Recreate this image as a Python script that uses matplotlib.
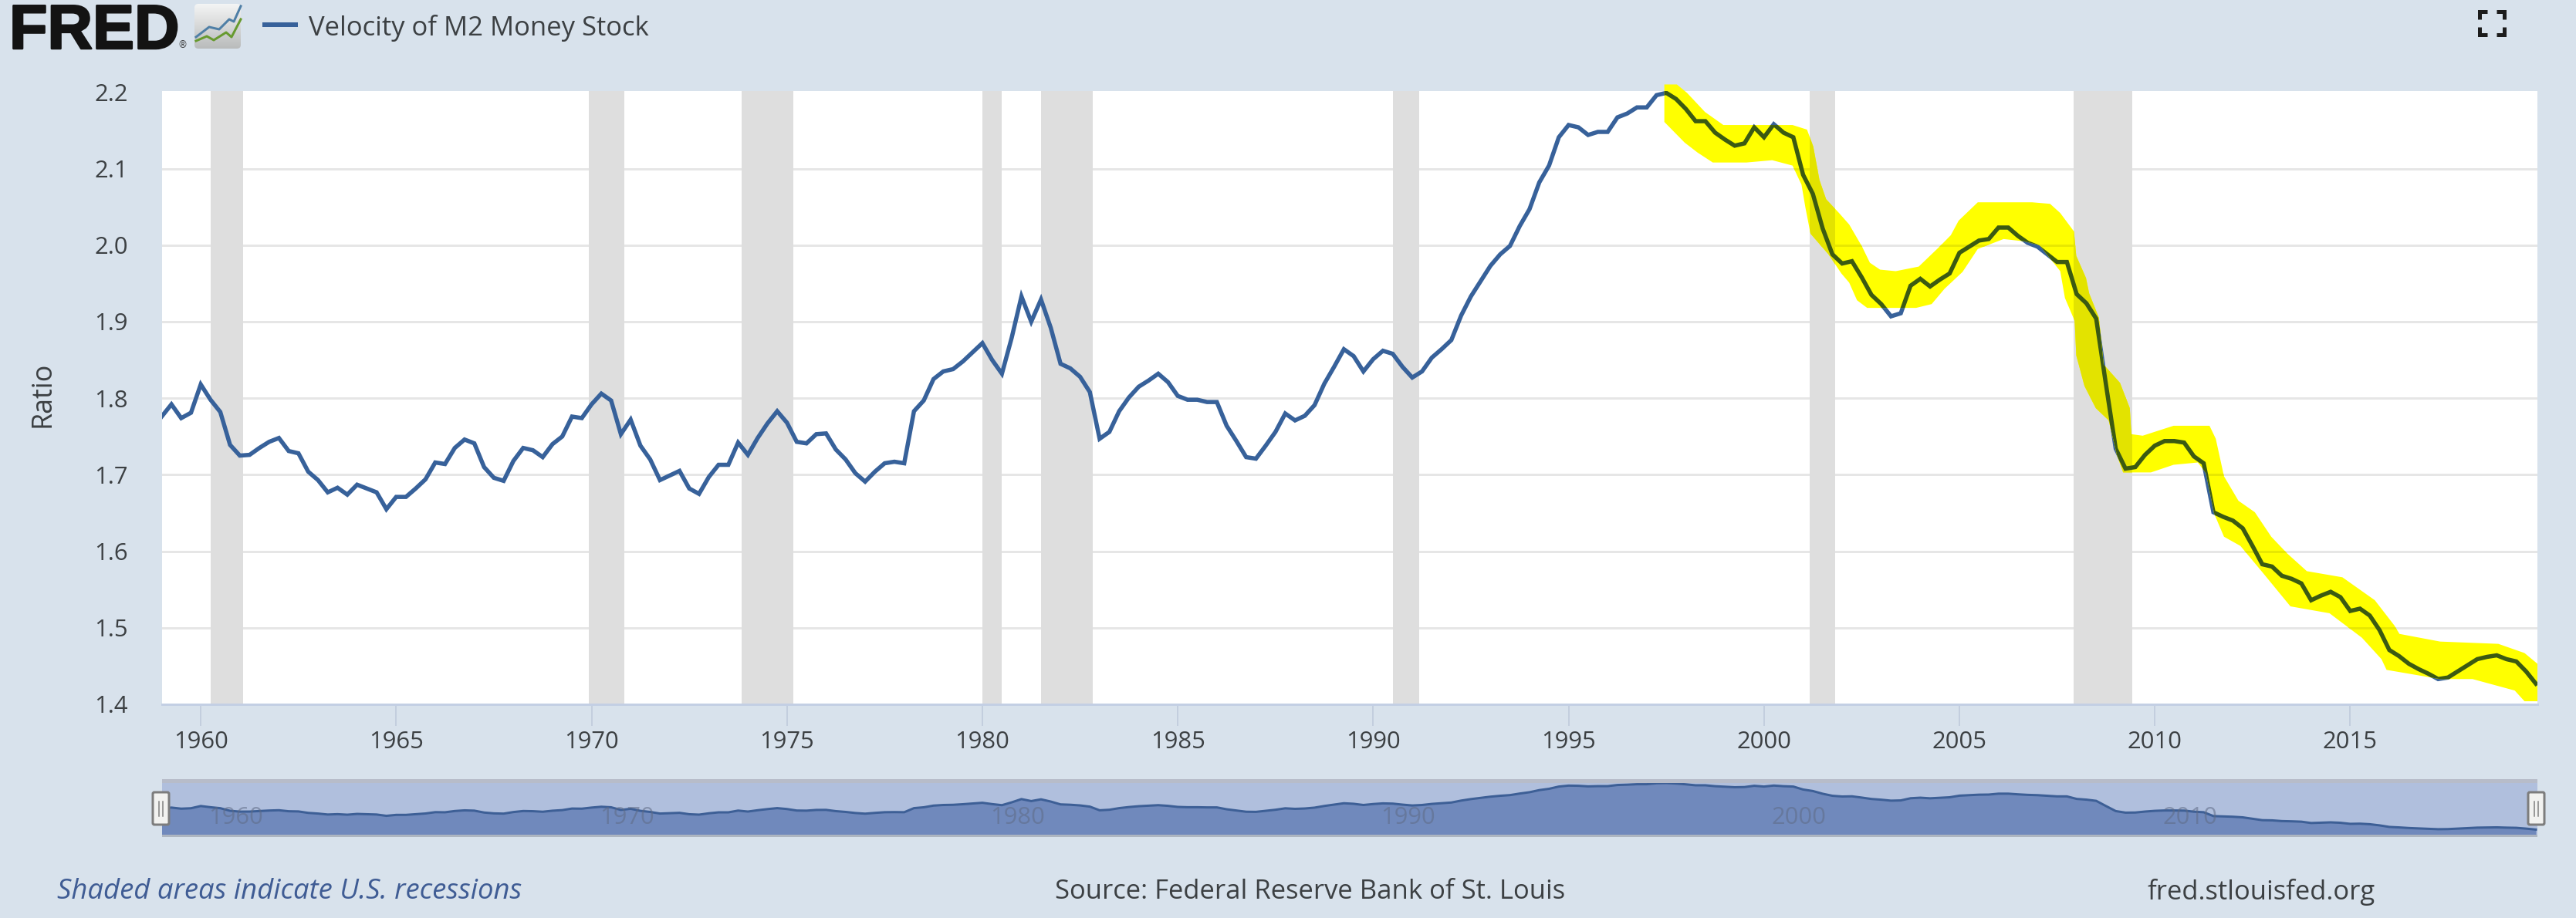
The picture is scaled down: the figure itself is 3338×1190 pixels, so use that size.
# -*- coding: utf-8 -*-
"""
FRED chart of M2 velocity with the hand drawn yellow highlighter on top
"""

import matplotlib
matplotlib.use('Agg')
import matplotlib.pyplot as plt
import matplotlib.patheffects as pe
import numpy as np
from matplotlib.patches import Rectangle, FancyBboxPatch

#%% Data

# Quarterly, first value is 1959 Q1
velocity = [
    1.776, 1.792, 1.774, 1.781, 1.818, 1.798, 1.782, 1.739, 1.725, 1.726,
    1.735, 1.743, 1.748, 1.731, 1.728, 1.704, 1.693, 1.677, 1.683, 1.674,
    1.687, 1.682, 1.677, 1.655, 1.671, 1.671, 1.682, 1.694, 1.716, 1.714,
    1.735, 1.746, 1.741, 1.710, 1.696, 1.692, 1.718, 1.735, 1.732, 1.723,
    1.740, 1.750, 1.776, 1.774, 1.792, 1.806, 1.797, 1.753, 1.772, 1.738,
    1.720, 1.693, 1.699, 1.705, 1.682, 1.675, 1.697, 1.713, 1.713, 1.742,
    1.726, 1.748, 1.767, 1.783, 1.768, 1.743, 1.741, 1.753, 1.754, 1.733,
    1.720, 1.702, 1.691, 1.704, 1.715, 1.717, 1.715, 1.783, 1.797, 1.825,
    1.835, 1.838, 1.848, 1.860, 1.872, 1.850, 1.832, 1.879, 1.933, 1.900,
    1.929, 1.892, 1.845, 1.839, 1.828, 1.808, 1.747, 1.756, 1.783, 1.801,
    1.815, 1.823, 1.832, 1.821, 1.803, 1.798, 1.798, 1.795, 1.795, 1.764,
    1.744, 1.723, 1.721, 1.738, 1.756, 1.780, 1.771, 1.777, 1.791, 1.819,
    1.841, 1.864, 1.855, 1.835, 1.851, 1.862, 1.858, 1.841, 1.827, 1.835,
    1.853, 1.864, 1.876, 1.908, 1.933, 1.953, 1.973, 1.988, 1.999, 2.025,
    2.047, 2.082, 2.104, 2.141, 2.157, 2.154, 2.144, 2.148, 2.148, 2.167,
    2.172, 2.180, 2.180, 2.196, 2.199, 2.191, 2.178, 2.162, 2.162, 2.147,
    2.138, 2.130, 2.133, 2.154, 2.141, 2.158, 2.147, 2.141, 2.092, 2.067,
    2.022, 1.988, 1.976, 1.979, 1.958, 1.935, 1.923, 1.907, 1.911, 1.947,
    1.956, 1.946, 1.955, 1.963, 1.990, 1.998, 2.006, 2.008, 2.023, 2.023,
    2.012, 2.003, 1.998, 1.988, 1.978, 1.978, 1.936, 1.924, 1.904, 1.818,
    1.734, 1.708, 1.710, 1.726, 1.738, 1.744, 1.744, 1.742, 1.724, 1.715,
    1.651, 1.645, 1.640, 1.630, 1.607, 1.583, 1.580, 1.568, 1.564, 1.558,
    1.536, 1.542, 1.547, 1.540, 1.522, 1.525, 1.516, 1.497, 1.471, 1.463,
    1.453, 1.446, 1.440, 1.433, 1.435, 1.443, 1.451, 1.459, 1.462, 1.464,
    1.459, 1.456, 1.443, 1.427]
quarters = 1959 + np.arange(len(velocity)) / 4

recession_start = [1960.25, 1969.92, 1973.83, 1980.00, 1981.50, 1990.50, 2001.17, 2007.92]
recession_end = [1961.08, 1970.83, 1975.17, 1980.50, 1982.83, 1991.17, 2001.83, 2009.42]

y_ticks = [1.4, 1.5, 1.6, 1.7, 1.8, 1.9, 2.0, 2.1, 2.2]
y_labels = ['1.4', '1.5', '1.6', '1.7', '1.8', '1.9', '2.0', '2.1', '2.2']
grid_levels = [1.5, 1.6, 1.7, 1.8, 1.9, 2.0, 2.1]
x_ticks = [1960, 1965, 1970, 1975, 1980, 1985, 1990, 1995, 2000, 2005, 2010, 2015]
navigator_labels = [1960, 1970, 1980, 1990, 2000, 2010]

# Outline of the yellow highlighter stroke
marker_top_x = [1997.45, 1997.77, 1998.03, 1998.49, 1998.96, 1999.55, 2000.73, 2001.10,
                2001.26, 2001.42, 2001.59, 2001.92, 2002.18, 2002.51, 2002.71, 2002.97,
                2003.37, 2003.96, 2004.49, 2004.78, 2004.98, 2005.47, 2006.86, 2007.32,
                2007.58, 2007.93, 2007.99, 2008.24, 2008.32, 2008.57, 2008.69, 2009.11,
                2009.36, 2009.40, 2009.69, 2010.48, 2011.40, 2011.56, 2011.77, 2012.14,
                2012.56, 2012.98, 2013.39, 2013.89, 2014.80, 2015.63, 2016.13, 2016.26,
                2017.30, 2018.79, 2019.46, 2019.79]
marker_top_y = [2.210, 2.210, 2.199, 2.174, 2.157, 2.157, 2.157, 2.151,
                2.129, 2.085, 2.060, 2.042, 2.027, 1.998, 1.977, 1.968,
                1.966, 1.972, 1.998, 2.013, 2.032, 2.056, 2.056, 2.054,
                2.042, 2.018, 1.986, 1.957, 1.937, 1.905, 1.844, 1.820,
                1.787, 1.753, 1.751, 1.764, 1.764, 1.747, 1.698, 1.666,
                1.651, 1.619, 1.597, 1.574, 1.566, 1.536, 1.503, 1.492,
                1.482, 1.479, 1.467, 1.453]
marker_bottom_x = [1997.45, 1997.97, 1998.30, 1998.69, 1999.55, 2000.21, 2000.73, 2000.96,
                   2001.06, 2001.19, 2001.65, 2001.98, 2002.18, 2002.38, 2002.64, 2003.89,
                   2004.29, 2004.62, 2005.08, 2005.47, 2006.13, 2006.66, 2007.05, 2007.58,
                   2007.70, 2007.95, 2007.99, 2008.20, 2008.49, 2008.82, 2009.03, 2009.19,
                   2009.90, 2010.48, 2011.10, 2011.31, 2011.52, 2011.77, 2012.19, 2012.73,
                   2013.47, 2014.47, 2015.30, 2015.80, 2015.93, 2017.30, 2018.13, 2019.21,
                   2019.46, 2019.79]
marker_bottom_y = [2.161, 2.134, 2.121, 2.108, 2.108, 2.111, 2.104, 2.079,
                   2.049, 2.015, 1.988, 1.963, 1.951, 1.928, 1.918, 1.918,
                   1.923, 1.943, 1.965, 1.995, 2.008, 2.005, 2.000, 1.966,
                   1.931, 1.901, 1.856, 1.816, 1.787, 1.771, 1.726, 1.703,
                   1.703, 1.713, 1.716, 1.702, 1.649, 1.619, 1.607, 1.574,
                   1.528, 1.519, 1.487, 1.459, 1.445, 1.433, 1.433, 1.418,
                   1.404, 1.404]

#%% Set up figure

W, H = 3338, 1190
px = 0.72  # one pixel in points at dpi 100

plt.rcParams['font.family'] = ['Open Sans', 'DejaVu Sans']

bg_color = '#d8e2ec'
line_color = '#37619a'
grid_color = '#e6e6e6'
rec_color = '#dedede'
text_color = '#3c4043'


def axes_px(left, top, right, bottom):
    return [left / W, 1 - bottom / H, (right - left) / W, (bottom - top) / H]


fig = plt.figure(figsize=(W / 100, H / 100), dpi=100, facecolor=bg_color)

#%% Main chart

ax = fig.add_axes(axes_px(210, 118, 3288, 913), facecolor='white')
ax.set_xlim(1959.01, 2019.79)
ax.set_ylim(1.4, 2.2014)

for level in grid_levels:
    ax.axhline(level, color=grid_color, lw=3 * px, zorder=1)
for start, end in zip(recession_start, recession_end):
    ax.axvspan(start, end, color=rec_color, lw=0, zorder=2)
ax.plot(quarters, velocity, color=line_color, lw=5.5 * px, zorder=3, solid_joinstyle='miter')

# highlighter: solid yellow, and everything under it redrawn in its darkened colour
marker = ax.fill(marker_top_x + marker_bottom_x[::-1], marker_top_y + marker_bottom_y[::-1],
                 color='#ffff00', lw=0, zorder=4, clip_on=False)[0]
for level in grid_levels:
    grid_on_marker = ax.axhline(level, color='#e8e800', lw=3 * px, zorder=5)
    grid_on_marker.set_clip_path(marker)
for start, end in zip(recession_start, recession_end):
    rec_on_marker = ax.axvspan(start, end, color='#e3e300', lw=0, zorder=5)
    rec_on_marker.set_clip_path(marker)
line_on_marker = ax.plot(quarters, velocity, color='#3b5a12', lw=5.5 * px, zorder=6,
                         solid_joinstyle='miter')[0]
line_on_marker.set_clip_path(marker)

ax.set_yticks(y_ticks)
ax.set_yticklabels(y_labels, fontsize=31 * px, color=text_color)
ax.tick_params(axis='y', length=0, pad=44 * px)
ax.set_xticks(x_ticks)
ax.set_xticklabels([str(t) for t in x_ticks], fontsize=31 * px, color=text_color)
ax.tick_params(axis='x', length=28 * px, width=2 * px, color='#c3cede', pad=4.5)
for side in ['top', 'left', 'right']:
    ax.spines[side].set_visible(False)
ax.spines['bottom'].set_color('#c3cfe4')
ax.spines['bottom'].set_linewidth(3 * px)

#%% Navigator strip

nav = fig.add_axes(axes_px(210, 1015, 3288, 1082), facecolor='#b0bfdd')
nav.set_xlim(1959.01, 2019.79)
nav.set_ylim(1.342, 2.2)
nav.fill_between(quarters, velocity, 1.342, color='#7089bc', lw=0, zorder=2)
nav.plot(quarters, velocity, color='#3d5f96', lw=3 * px, zorder=3)
for year in navigator_labels:
    nav.text(year + 0.9, 1.62, str(year), ha='center', va='center', fontsize=31 * px,
             color='#5f6b85', alpha=0.55, zorder=4)
nav.axis('off')
nav.add_patch(Rectangle((0, 0), 1, 1, transform=nav.transAxes, color='#b0bfdd', zorder=0))

#%% Page furniture in pixel coordinates

page = fig.add_axes([0, 0, 1, 1], zorder=10)
page.patch.set_alpha(0)
page.axis('off')

# FRED logo and its small chart icon
gradient = np.linspace(0, 1, 64).reshape(-1, 1)
icon = page.imshow(gradient, cmap=matplotlib.colors.LinearSegmentedColormap.from_list(
    'icon', ['#f4f5f5', '#b9bbbb']), extent=(252, 312, 63, 5), aspect='auto')
icon_box = FancyBboxPatch((254, 7), 56, 54, boxstyle='round,pad=2,rounding_size=5',
                          transform=page.transData, fc='none', ec='none')
page.add_patch(icon_box)
icon.set_clip_path(icon_box)
page.plot([254, 271, 284, 297, 303, 312], [48, 35, 38, 25, 28, 8], color='#4f7fa6', lw=3 * px)
page.plot([254, 268, 277, 293, 300, 312], [53, 47, 52, 42, 48, 25], color='#679a2f', lw=3 * px)

page.text(12, 63, 'FRED', fontsize=81 * px, fontweight='bold', color='#131313',
          ha='left', va='baseline', family=['Liberation Sans', 'DejaVu Sans'],
          path_effects=[pe.withStroke(linewidth=2.5 * px, foreground='#131313')])
page.text(236, 62, '®', fontsize=12 * px, color='#333333', ha='center', va='baseline')

# legend
page.plot([340, 386], [32, 32], color=line_color, lw=6 * px, solid_capstyle='butt')
page.text(400, 46, 'Velocity of M2 Money Stock', fontsize=34.7 * px, color=text_color,
          ha='left', va='baseline')

# fullscreen icon
for cx, cy, dx, dy in [(3213, 15, 1, 1), (3245, 15, -1, 1), (3213, 45, 1, -1), (3245, 45, -1, -1)]:
    page.plot([cx + 10 * dx, cx, cx], [cy, cy, cy + 10 * dy], color='#1c1c1c', lw=5 * px,
              solid_joinstyle='miter', solid_capstyle='butt')

page.text(55, 511, 'Ratio', fontsize=36 * px, color=text_color, rotation=90,
          ha='center', va='center')

# navigator frame and handles
page.add_patch(Rectangle((210, 1010), 3078, 5, fc='#b7bcc9', ec='none'))
page.add_patch(Rectangle((210, 1082), 3078, 3, fc='#adb5c0', ec='none'))
for hx in [198, 3276]:
    page.add_patch(FancyBboxPatch((hx, 1027), 21, 42, boxstyle='round,pad=0,rounding_size=2',
                                  fc='#f2f2f0', ec='#7d7d7d', lw=3 * px))
    page.plot([hx + 8, hx + 8], [1039, 1058], color='#7d7d7d', lw=1.5 * px)
    page.plot([hx + 13, hx + 13], [1039, 1058], color='#7d7d7d', lw=1.5 * px)

# footer
page.text(74, 1156, 'Shaded areas indicate U.S. recessions', fontsize=36.5 * px, style='italic',
          color='#3f5c94', ha='left', va='center')
page.text(1367, 1156, 'Source: Federal Reserve Bank of St. Louis', fontsize=34.6 * px,
          color=text_color, ha='left', va='center')
page.text(2782, 1156, 'fred.stlouisfed.org', fontsize=34.6 * px, color=text_color,
          ha='left', va='center')

page.set_xlim(0, W)
page.set_ylim(H, 0)

plt.savefig('out.png', dpi=100, facecolor=bg_color)
